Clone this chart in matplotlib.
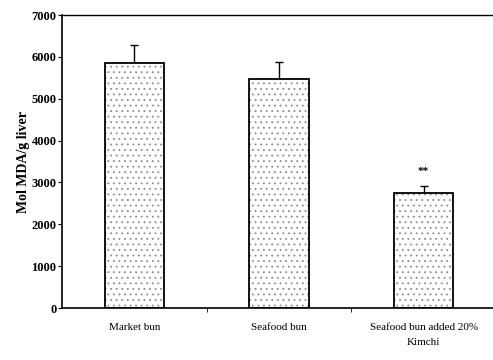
import matplotlib
matplotlib.use("Agg")
import matplotlib.pyplot as plt
import numpy as np

categories = ["Market bun", "Seafood bun", "Seafood bun added 20%\nKimchi"]
values = [5850, 5470, 2750]
errors = [430, 400, 160]
sig_labels = ["", "", "**"]
y_ticks = [0, 1000, 2000, 3000, 4000, 5000, 6000, 7000]

plt.rcParams['font.family'] = ['Liberation Serif', 'DejaVu Serif']
plt.rcParams['hatch.linewidth'] = 0.6

fig = plt.figure(figsize=(4.93, 3.6), dpi=100)
ax = fig.add_axes([0.1258, 0.1444, 0.8742, 0.8139])

x = np.arange(len(categories))
for xi, v, e in zip(x, values, errors):
    ax.errorbar([xi], [v], yerr=[[0], [e]], fmt='none', ecolor='black',
                elinewidth=1.0, capsize=3, capthick=1.0, zorder=1)
# stipple fill
ax.bar(x, values, width=0.41, color='white', edgecolor='#8c8c8c',
       linewidth=0, hatch='...', zorder=2)
# outline
ax.bar(x, values, width=0.41, fill=False, edgecolor='black',
       linewidth=1.3, zorder=3)
for xi, v, e, s in zip(x, values, errors, sig_labels):
    if s:
        ax.text(xi, v + e + 250, s, ha='center', va='bottom', fontsize=8,
                fontweight='bold')

ax.set_xlim(-0.5, 2.48)
ax.set_ylim(0, 7000)
ax.set_yticks(y_ticks)
ax.set_yticklabels([str(t) for t in y_ticks], fontsize=9, fontweight='bold')
ax.set_xticks(x)
ax.set_xticklabels(categories, fontsize=8, linespacing=1.8)
ax.tick_params(axis='x', length=0, pad=11)
ax.set_xticks([0.5, 1.5], minor=True)
ax.tick_params(axis='x', which='minor', length=3, direction='out')
ax.tick_params(axis='y', length=3, direction='out', pad=1)
ax.set_ylabel("Mol MDA/g liver", fontsize=10, fontweight='bold', labelpad=1)

ax.spines['right'].set_visible(False)
ax.spines['top'].set_linewidth(1.0)
ax.spines['left'].set_linewidth(1.2)
ax.spines['bottom'].set_linewidth(1.2)

fig.savefig("out.png", dpi=100)
